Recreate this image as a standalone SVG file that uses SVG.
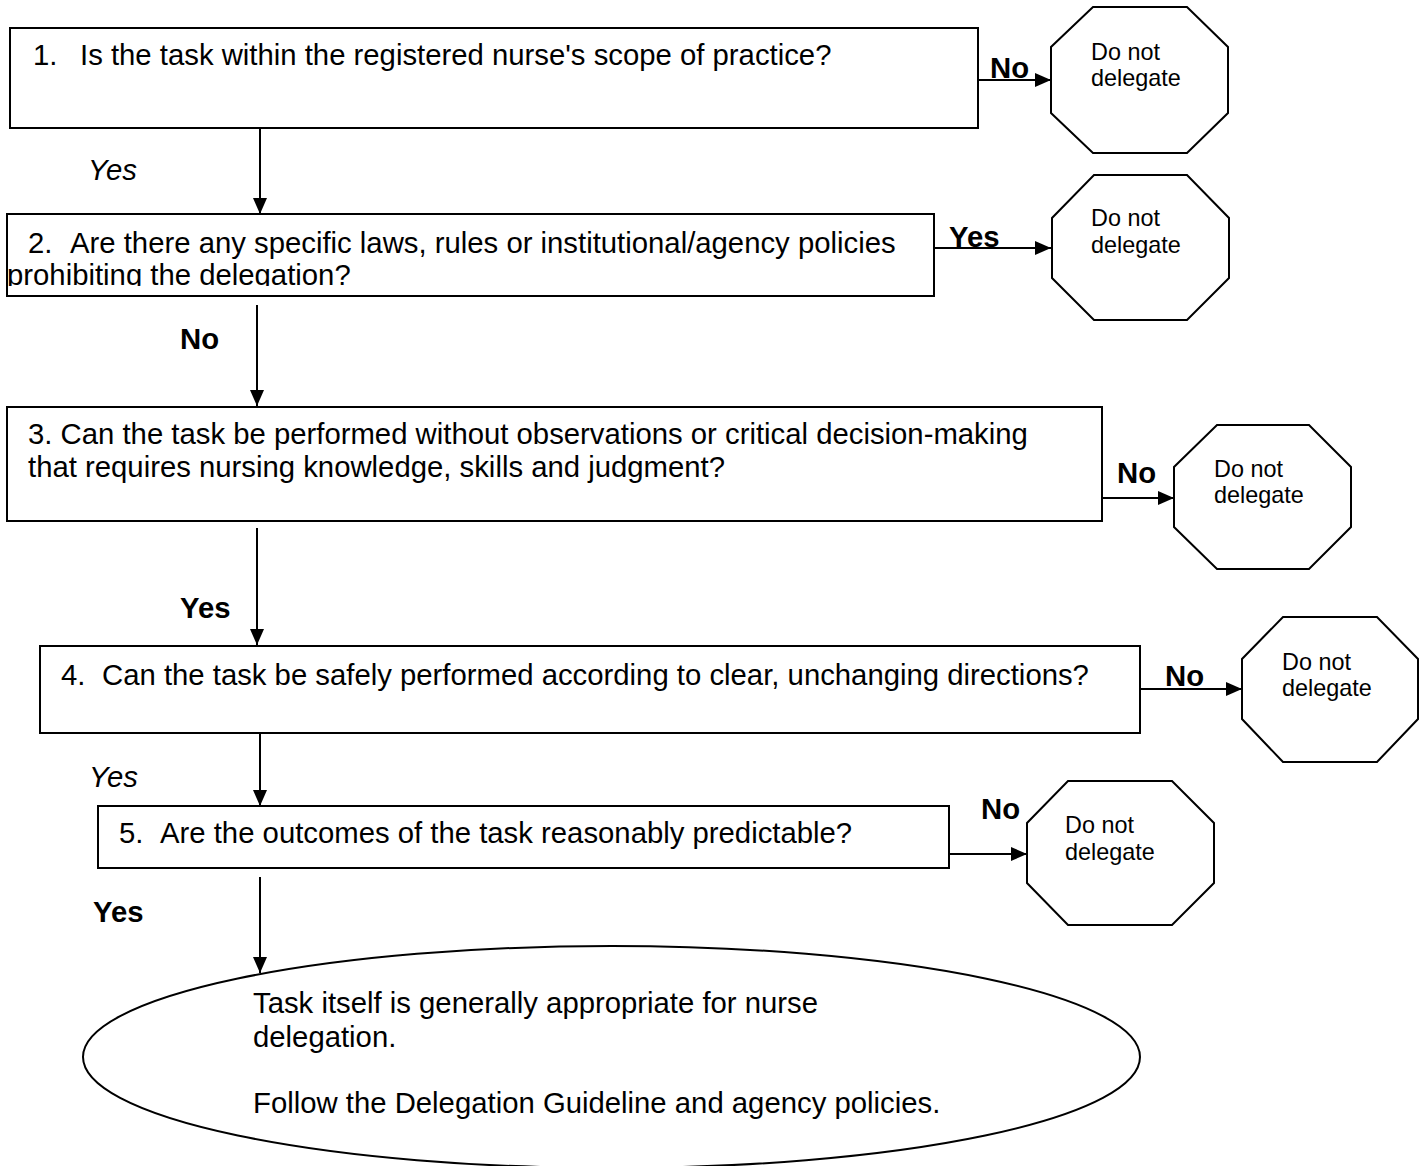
<svg xmlns="http://www.w3.org/2000/svg" width="1424" height="1166" viewBox="0 0 1424 1166">
<style>
.box{fill:#fff;stroke:#000;stroke-width:2}
.oct{fill:#fff;stroke:#000;stroke-width:2}
.t{font-family:"Liberation Sans",Arial,sans-serif;font-size:29.3px;fill:#000}
.o{font-family:"Liberation Sans",Arial,sans-serif;font-size:23.4px;fill:#000}
.b{font-weight:bold}
.i{font-style:italic}
.c{stroke:#000;stroke-width:2;fill:none}
</style>
<defs>
<marker id="ah" viewBox="0 0 16 14" refX="16" refY="7" markerWidth="16" markerHeight="14" markerUnits="userSpaceOnUse" orient="auto">
<path d="M0,0 L16,7 L0,14 Z" fill="#000"/>
</marker>
<clipPath id="clip2"><rect x="8" y="215" width="925" height="71"/></clipPath>
</defs>
<rect width="1424" height="1166" fill="#fff"/>

<g id="connectors">
<line class="c" x1="979" y1="80" x2="1051" y2="80" marker-end="url(#ah)"/>
<line class="c" x1="260" y1="128" x2="260" y2="214" marker-end="url(#ah)"/>
<line class="c" x1="934" y1="248" x2="1051" y2="248" marker-end="url(#ah)"/>
<line class="c" x1="257" y1="305" x2="257" y2="406" marker-end="url(#ah)"/>
<line class="c" x1="1102" y1="498" x2="1174" y2="498" marker-end="url(#ah)"/>
<line class="c" x1="257" y1="528" x2="257" y2="645" marker-end="url(#ah)"/>
<line class="c" x1="1140" y1="689" x2="1242" y2="689" marker-end="url(#ah)"/>
<line class="c" x1="260" y1="733" x2="260" y2="806" marker-end="url(#ah)"/>
<line class="c" x1="949" y1="854" x2="1027" y2="854" marker-end="url(#ah)"/>
<line class="c" x1="260" y1="877" x2="260" y2="973" marker-end="url(#ah)"/>
<text class="t b" x="990" y="78">No</text>
<text class="t i" x="88" y="180">Yes</text>
<text class="t b" x="949" y="247">Yes</text>
<text class="t b" x="180" y="349">No</text>
<text class="t b" x="1117" y="483">No</text>
<text class="t b" x="180" y="618">Yes</text>
<text class="t b" x="1165" y="686">No</text>
<text class="t i" x="89" y="787">Yes</text>
<text class="t b" x="981" y="819">No</text>
<text class="t b" x="93" y="922">Yes</text>
</g>

<g id="q1">
<rect class="box" x="10" y="28" width="968" height="100"/>
<text class="t" x="33" y="65">1.</text>
<text class="t" x="80" y="65">Is the task within the registered nurse's scope of practice?</text>
</g>
<g id="q2">
<rect class="box" x="7" y="214" width="927" height="82"/>
<g clip-path="url(#clip2)">
<text class="t" x="28" y="253">2.</text>
<text class="t" x="70" y="253">Are there any specific laws, rules or institutional/agency policies</text>
<text class="t" x="7" y="285">prohibiting the delegation?</text>
</g>
</g>
<g id="q3">
<rect class="box" x="7" y="407" width="1095" height="114"/>
<text class="t" x="28" y="444">3. Can the task be performed without observations or critical decision-making</text>
<text class="t" x="28" y="477">that requires nursing knowledge, skills and judgment?</text>
</g>
<g id="q4">
<rect class="box" x="40" y="646" width="1100" height="87"/>
<text class="t" x="61" y="685">4.</text>
<text class="t" x="102" y="685">Can the task be safely performed according to clear, unchanging directions?</text>
</g>
<g id="q5">
<rect class="box" x="98" y="806" width="851" height="62"/>
<text class="t" x="119" y="843">5.</text>
<text class="t" x="160" y="843">Are the outcomes of the task reasonably predictable?</text>
</g>

<g id="stop1">
<polygon class="oct" points="1093,7 1187,7 1228,47 1228,113 1187,153 1093,153 1051,113 1051,47"/>
<text class="o" x="1091" y="60">Do not</text>
<text class="o" x="1091" y="86">delegate</text>
</g>
<g id="stop2">
<polygon class="oct" points="1094,175 1187,175 1229,218 1229,278 1187,320 1094,320 1052,278 1052,218"/>
<text class="o" x="1091" y="226">Do not</text>
<text class="o" x="1091" y="253">delegate</text>
</g>
<g id="stop3">
<polygon class="oct" points="1217,425 1309,425 1351,467 1351,527 1309,569 1217,569 1174,527 1174,467"/>
<text class="o" x="1214" y="477">Do not</text>
<text class="o" x="1214" y="503">delegate</text>
</g>
<g id="stop4">
<polygon class="oct" points="1283,617 1377,617 1418,659 1418,719 1377,762 1283,762 1242,719 1242,659"/>
<text class="o" x="1282" y="670">Do not</text>
<text class="o" x="1282" y="696">delegate</text>
</g>
<g id="stop5">
<polygon class="oct" points="1068,781 1172,781 1214,823 1214,883 1172,925 1068,925 1027,883 1027,823"/>
<text class="o" x="1065" y="833">Do not</text>
<text class="o" x="1065" y="860">delegate</text>
</g>

<g id="result">
<ellipse class="box" cx="611.5" cy="1057" rx="528.5" ry="111"/>
<text class="t" x="253" y="1013">Task itself is generally appropriate for nurse</text>
<text class="t" x="253" y="1047">delegation.</text>
<text class="t" x="253" y="1113">Follow the Delegation Guideline and agency policies.</text>
</g>
</svg>
